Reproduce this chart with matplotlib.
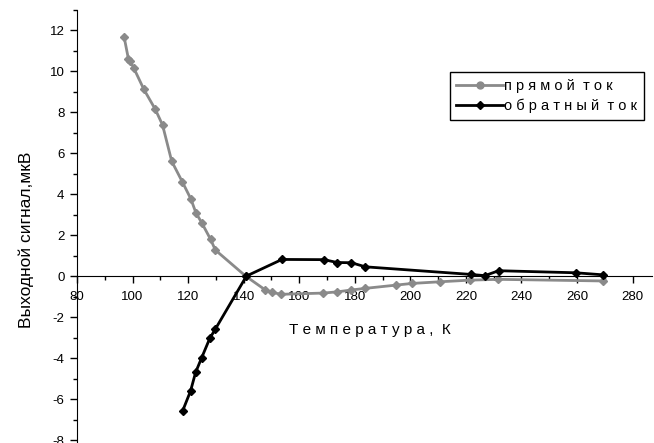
import matplotlib.pyplot as plt
from matplotlib.ticker import MultipleLocator

plt.rcParams['font.family'] = ['Liberation Sans', 'DejaVu Sans']
plt.rcParams['axes.unicode_minus'] = False

# прямой ток
t_direct = [97.0, 98.5, 99.1, 100.5, 104.1, 108.2, 110.8, 114.1, 117.9, 121.0,
            122.8, 124.9, 128.1, 129.8, 140.7, 147.6, 150.2, 153.6, 168.7, 173.7,
            178.8, 183.8, 195.0, 200.6, 210.6, 221.4, 231.6, 269.3]
u_direct = [11.64, 10.6, 10.5, 10.13, 9.1, 8.13, 7.37, 5.6, 4.6, 3.76,
            3.09, 2.6, 1.79, 1.27, 0.0, -0.66, -0.8, -0.89, -0.83, -0.77,
            -0.68, -0.6, -0.44, -0.36, -0.28, -0.2, -0.16, -0.24]

# обратный ток
t_reverse = [118.0, 120.9, 122.7, 124.9, 127.8, 129.8, 141.0, 153.8, 168.9,
             173.7, 178.8, 183.8, 221.7, 226.8, 231.8, 259.5, 269.3]
u_reverse = [-6.59, -5.6, -4.7, -3.98, -3.04, -2.59, 0.0, 0.81, 0.8,
             0.66, 0.65, 0.45, 0.08, 0.02, 0.26, 0.16, 0.06]

fig = plt.figure(figsize=(6.54, 4.43), dpi=100)
ax = fig.add_axes([0.1177, 0.002, 0.8793, 0.9765])

ax.plot(t_direct, u_direct, color='#8a8a8a', lw=2, marker='D', ms=4.5,
        label='п р я м о й  т о к')
ax.plot(t_reverse, u_reverse, color='black', lw=2, marker='D', ms=4.5,
        label='о б р а т н ы й  т о к')

ax.set_xlim(80, 287)
ax.set_ylim(-8.1, 13)

ax.spines['top'].set_visible(False)
ax.spines['right'].set_visible(False)
ax.spines['bottom'].set_position(('data', 0))

ax.xaxis.set_major_locator(MultipleLocator(20))
ax.xaxis.set_minor_locator(MultipleLocator(10))
ax.yaxis.set_major_locator(MultipleLocator(2))
ax.yaxis.set_minor_locator(MultipleLocator(1))
ax.tick_params(which='major', length=5, width=1, labelsize=9.5, pad=4)
ax.tick_params(which='minor', length=3, width=1)
ax.tick_params(axis='x', pad=6)

ax.set_ylabel('Выходной сигнал,мкВ', fontsize=12.5)
ax.yaxis.set_label_coords(-0.075, 0.467)
ax.text(0.51, 0.259, 'Т е м п е р а т у р а ,  К', transform=ax.transAxes,
        ha='center', va='center', fontsize=11)

leg = ax.legend(loc='upper right', bbox_to_anchor=(0.986, 0.855), fontsize=10.5,
                fancybox=False, edgecolor='black', framealpha=1,
                handlelength=3.2, handletextpad=0.1, borderpad=0.45,
                labelspacing=0.4, borderaxespad=0)
leg.get_frame().set_linewidth(1)
leg.legend_handles[0].set_marker('o')
leg.legend_handles[0].set_markersize(5)

fig.savefig('out.png', dpi=100)
